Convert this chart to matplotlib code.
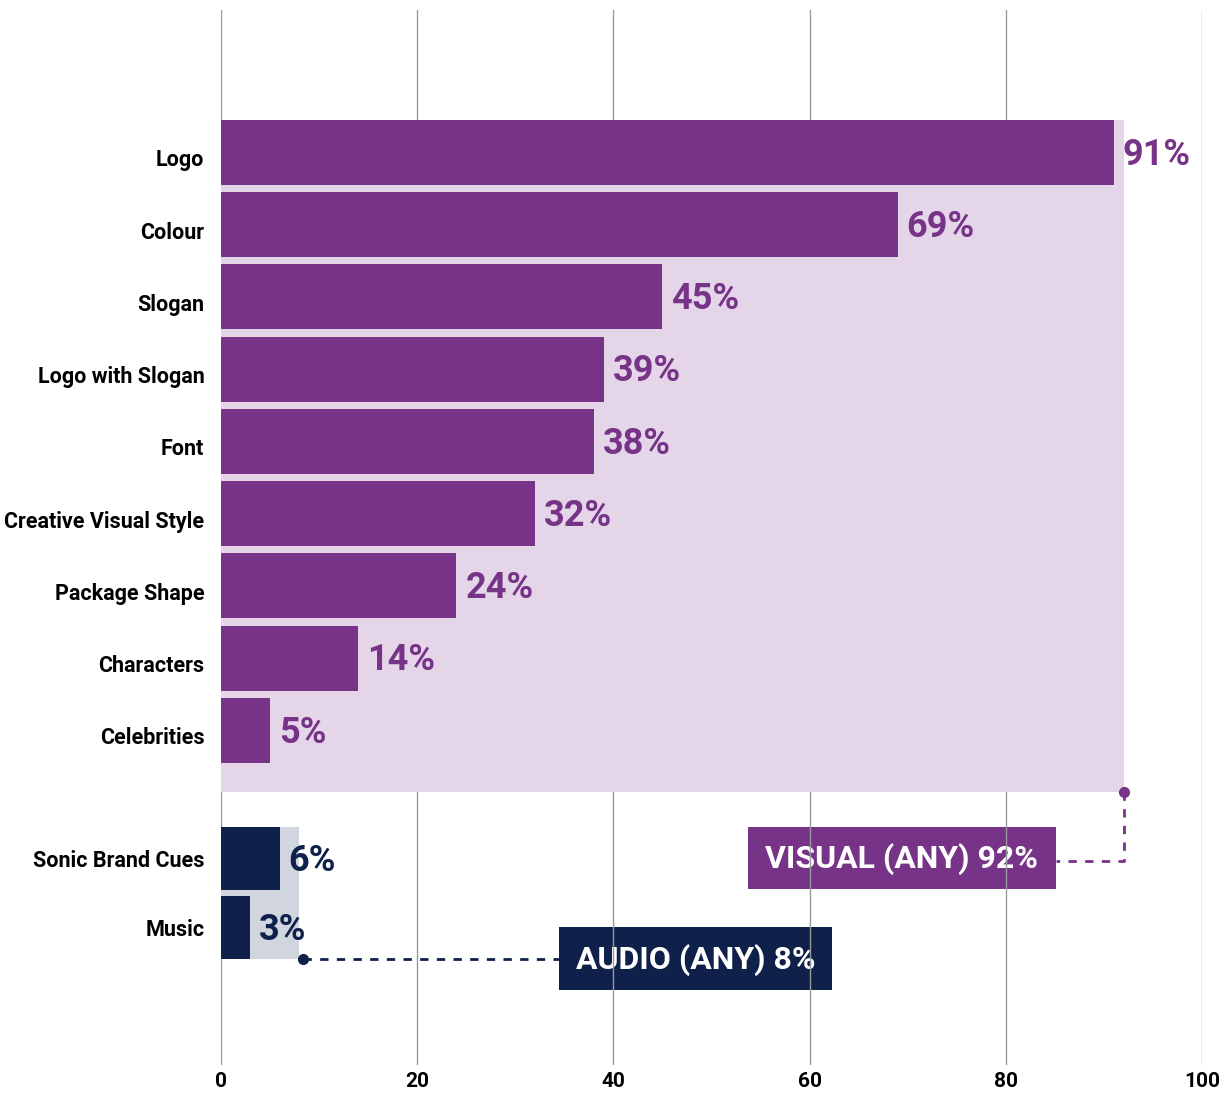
import matplotlib.pyplot as plt
from matplotlib.patches import Rectangle
from matplotlib.transforms import ScaledTranslation

plt.rcParams["font.family"] = ["Roboto", "DejaVu Sans"]
plt.rcParams["font.weight"] = "bold"

visual_labels = ["Logo", "Colour", "Slogan", "Logo with Slogan", "Font",
                 "Creative Visual Style", "Package Shape", "Characters", "Celebrities"]
visual_values = [91, 69, 45, 39, 38, 32, 24, 14, 5]
visual_any = 92

audio_labels = ["Sonic Brand Cues", "Music"]
audio_values = [6, 3]
audio_any = 8

PURPLE = "#763387"
PURPLE_BG = "#e4d5e8"
NAVY = "#0f214b"
NAVY_BG = "#d0d5de"

fig = plt.figure(figsize=(12.3, 10.93), dpi=100)
ax = fig.add_axes([221 / 1230, 1 - 1065 / 1093, (1202 - 221) / 1230, (1065 - 10) / 1093])

vis_y = list(range(len(visual_labels)))
aud_y = [9.77, 10.73]
h_vis = 0.9
h_aud = 0.87

# group backgrounds
ax.add_patch(Rectangle((0, -0.45), visual_any, 9.3, color=PURPLE_BG, zorder=2, lw=0))
ax.add_patch(Rectangle((0, aud_y[0] - h_aud / 2), audio_any, aud_y[1] - aud_y[0] + h_aud,
                       color=NAVY_BG, zorder=2, lw=0))

ax.barh(vis_y, visual_values, height=h_vis, color=PURPLE, zorder=3)
ax.barh(aud_y, audio_values, height=h_aud, color=NAVY, zorder=3)

for y, v in zip(vis_y, visual_values):
    ax.text(v + 0.9, y + 0.03, f"{v}%", color=PURPLE, fontsize=26, va="center", ha="left", zorder=4)
for y, v in zip(aud_y, audio_values):
    ax.text(v + 0.9, y + 0.03, f"{v}%", color=NAVY, fontsize=26, va="center", ha="left", zorder=4)

for x in range(0, 101, 20):
    ax.axvline(x, color="#9a9a9a", lw=1, zorder=1)

# summary boxes
vis_box = (53.7, 9.33, 31.4, 0.87)
aud_box = (34.45, 10.72, 27.85, 0.87)
ax.add_patch(Rectangle(vis_box[:2], vis_box[2], vis_box[3], color=PURPLE, zorder=0.5, lw=0))
ax.text(vis_box[0] + vis_box[2] / 2, vis_box[1] + vis_box[3] / 2 + 0.02, f"VISUAL (ANY) {visual_any}%",
        color="white", fontsize=23, ha="center", va="center", zorder=0.6)
ax.add_patch(Rectangle(aud_box[:2], aud_box[2], aud_box[3], color=NAVY, zorder=0.5, lw=0))
ax.text(aud_box[0] + aud_box[2] / 2, aud_box[1] + aud_box[3] / 2 + 0.02, f"AUDIO (ANY) {audio_any}%",
        color="white", fontsize=23, ha="center", va="center", zorder=0.6)

# connectors
vy = 8.85
ly = aud_y[0] + 0.04
ax.plot([visual_any, visual_any, vis_box[0] + vis_box[2]], [vy, ly, ly],
        color=PURPLE, lw=2, ls=(0, (3, 3)), zorder=4)
ax.plot([visual_any], [vy], "o", color=PURPLE, ms=7, zorder=5)
ay = aud_y[1] + h_aud / 2
ax.plot([audio_any + 0.4, aud_box[0]], [ay, ay], color=NAVY, lw=2, ls=(0, (3, 3)), zorder=4)
ax.plot([audio_any + 0.4], [ay], "o", color=NAVY, ms=7, zorder=5)

ax.set_xlim(0, 100)
ax.set_ylim(12.63, -1.97)
ax.set_yticks(vis_y + aud_y)
ax.set_yticklabels(visual_labels + audio_labels, fontsize=15.5)
ax.set_xticks(range(0, 101, 20))
ax.tick_params(axis="both", length=0)
ax.tick_params(axis="y", pad=12)
ax.tick_params(axis="x", pad=5, labelsize=15)
shift = ScaledTranslation(0, -4 / 72, fig.dpi_scale_trans)
for lab in ax.get_yticklabels()[:len(visual_labels)]:
    lab.set_transform(lab.get_transform() + shift)
for s in ax.spines.values():
    s.set_visible(False)

fig.savefig("out.png", dpi=100)
